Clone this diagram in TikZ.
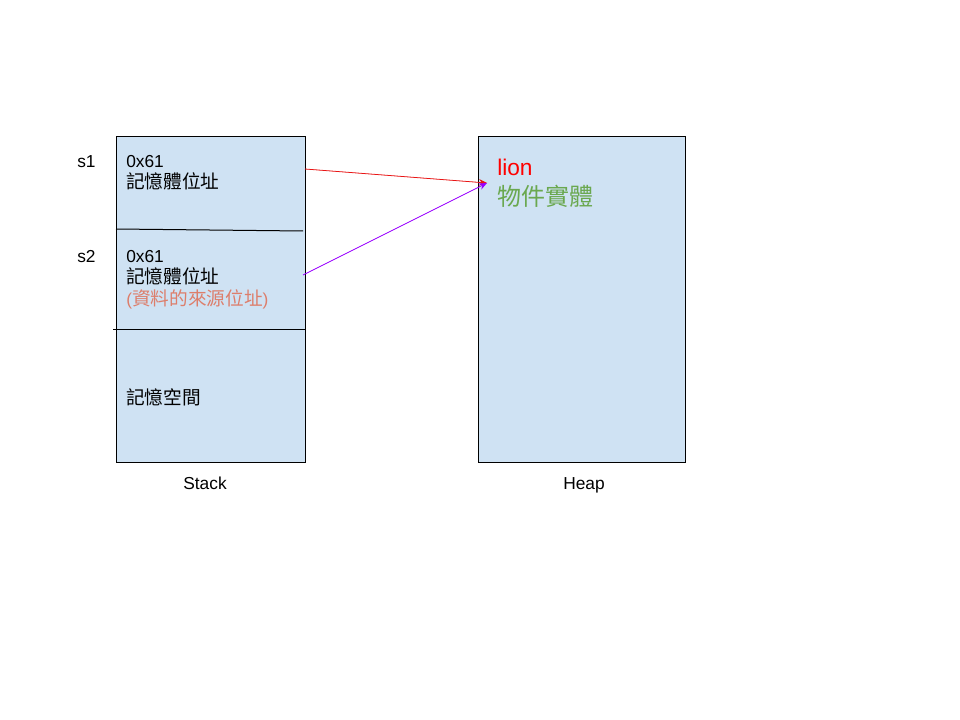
\documentclass[tikz,border=0pt]{standalone}
\usepackage{fontspec}
\setmainfont{Liberation Sans}
\newfontfamily\cjk{Noto Sans CJK TC}
\usetikzlibrary{arrows.meta}

\definecolor{selbiru}{RGB}{207,226,243}
\definecolor{merah}{RGB}{232,22,22}
\definecolor{ungu}{RGB}{153,0,255}
\definecolor{salem}{RGB}{221,126,107}
\definecolor{hijau}{RGB}{106,168,79}
\newcommand\zh[1]{{\cjk\fontsize{14}{16}\selectfont #1}}
\newcommand\zhbesar[1]{{\cjk\fontsize{18}{22}\selectfont #1}}

\begin{document}
\begin{tikzpicture}[
      x=0.75pt, y=-0.75pt,
      font=\fontsize{13}{16}\selectfont,
      area/.style={draw=black, fill=selbiru, line width=0.75pt,
      minimum height=243.75pt, inner sep=0pt},
      teks/.style={anchor=north west, inner sep=0pt, align=left},
      judul/.style={anchor=base, inner sep=0pt},
      panah/.style={-{Stealth[length=6pt, width=5pt]}, line width=0.6pt}
    ]
    \useasboundingbox (0,0) rectangle (960,720);

    \node[area, minimum width=141.75pt] (stack) at (210.5,299.5) {};
    \node[area, minimum width=155.25pt] (heap) at (581.5,299.5) {};
    \draw[line width=0.75pt] (116,229) -- (303,231);
    \draw[line width=0.75pt] (113,329) -- (305,329);

    \node[teks] (s1) at (77,155) {s1};
    \node[teks] (s2) at (77,250) {s2};
    \node[teks] (isi1) at (126,155) {0x61\\\zh{記憶體位址}};
    \node[teks] (isi2) at (126,250)
    {0x61\\\zh{記憶體位址}\\\textcolor{salem}{(\zh{資料的來源位址})}};
    \node[teks, anchor=west] (ruang) at (126,397) {\zh{記憶空間}};
    \node[teks, font=\fontsize{17}{22}\selectfont] (objek) at (497,159)
    {\textcolor{red}{lion}\\\textcolor{hijau}{\zhbesar{物件實體}}};

    \node[judul] (lstack) at (205,489) {Stack};
    \node[judul] (lheap) at (584,489) {Heap};

    \coordinate (p1) at (305,169);
    \coordinate (p2) at (303,275);
    \coordinate (obj) at (487,183);
    \draw[panah, draw=merah, fill=merah] (p1) -- (obj);
    \draw[panah, draw=ungu, fill=ungu] (p2) -- (obj);
  \end{tikzpicture}
\end{document}
